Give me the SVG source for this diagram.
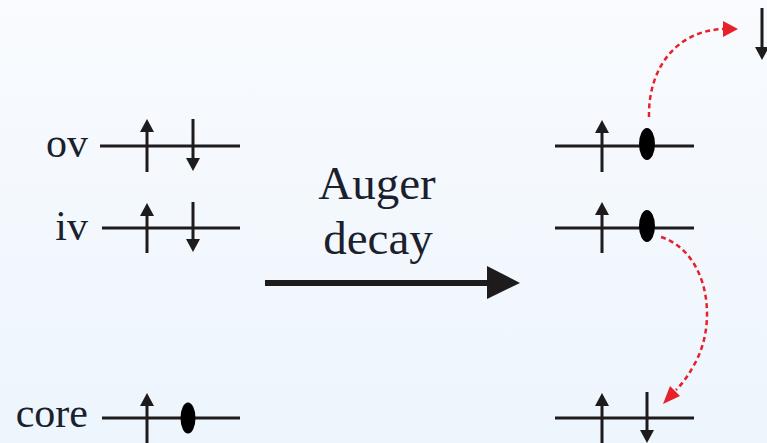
<svg xmlns="http://www.w3.org/2000/svg" width="767" height="443" viewBox="0 0 767 443">
  <defs>
    <linearGradient id="bg" x1="0" y1="0" x2="0" y2="1">
      <stop offset="0" stop-color="#f9fbfe"/>
      <stop offset="1" stop-color="#edf5fd"/>
    </linearGradient>
    <path id="up" d="M0,0 L-7,13 L7,13 Z" fill="#1e1b1c"/>
    <path id="down" d="M0,0 L-7,-13 L7,-13 Z" fill="#1e1b1c"/>
  </defs>
  <style>
    .lvl { stroke: #1e1b1c; stroke-width: 3; fill: none; }
    .shaft { stroke: #1e1b1c; stroke-width: 3; fill: none; }
    .hole { fill: #000; }
    .lbl { font-family: "Liberation Serif", "Times New Roman", serif; font-size: 42px; fill: #1b1f2e; }
    .big { font-family: "Liberation Serif", "Times New Roman", serif; font-size: 47px; fill: #1b1f2e; text-anchor: middle; }
    .red { stroke: #e8202a; stroke-width: 2.5; fill: none; stroke-dasharray: 5 3.5; }
    .redhead { fill: #e8202a; }
  </style>
  <rect width="767" height="443" fill="url(#bg)"/>

  <g id="left-ov">
    <text class="lbl" x="88" y="157" text-anchor="end">ov</text>
    <line class="lvl" x1="100" y1="146" x2="240" y2="146"/>
    <line class="shaft" x1="147" y1="172" x2="147" y2="128"/>
    <use href="#up" x="147" y="119"/>
    <line class="shaft" x1="193" y1="119" x2="193" y2="162"/>
    <use href="#down" x="193" y="171"/>
  </g>
  <g id="left-iv">
    <text class="lbl" x="88" y="240" text-anchor="end">iv</text>
    <line class="lvl" x1="102" y1="228" x2="240" y2="228"/>
    <line class="shaft" x1="147" y1="253" x2="147" y2="210"/>
    <use href="#up" x="147" y="203"/>
    <line class="shaft" x1="193" y1="202" x2="193" y2="244"/>
    <use href="#down" x="193" y="252"/>
  </g>
  <g id="left-core">
    <text class="lbl" x="88" y="427" text-anchor="end">core</text>
    <line class="lvl" x1="102" y1="418" x2="240" y2="418"/>
    <line class="shaft" x1="147" y1="445" x2="147" y2="402"/>
    <use href="#up" x="147" y="393"/>
    <ellipse class="hole" cx="188" cy="418" rx="7.5" ry="15.5"/>
  </g>

  <g id="auger">
    <text class="big" x="377" y="199">Auger</text>
    <text class="big" x="378" y="254">decay</text>
  </g>

  <g id="right-ov">
    <line class="lvl" x1="555" y1="146" x2="694" y2="146"/>
    <line class="shaft" x1="602" y1="172" x2="602" y2="128"/>
    <use href="#up" x="602" y="120"/>
    <ellipse class="hole" cx="647" cy="144" rx="8" ry="16"/>
  </g>
  <g id="right-iv">
    <line class="lvl" x1="555" y1="228" x2="694" y2="228"/>
    <line class="shaft" x1="602" y1="253" x2="602" y2="210"/>
    <use href="#up" x="602" y="202"/>
    <ellipse class="hole" cx="647" cy="226" rx="8" ry="16"/>
  </g>
  <g id="right-core">
    <line class="lvl" x1="555" y1="418" x2="694" y2="418"/>
    <line class="shaft" x1="602" y1="445" x2="602" y2="402"/>
    <use href="#up" x="602" y="393"/>
    <line class="shaft" x1="647" y1="392" x2="647" y2="434"/>
    <use href="#down" x="647" y="443"/>
  </g>
  <g id="ejected-electron">
    <line class="shaft" x1="762" y1="8" x2="762" y2="50"/>
    <use href="#down" x="762" y="60"/>
  </g>

  <g id="connectors">
    <line x1="265" y1="283" x2="490" y2="283" stroke="#1e1b1c" stroke-width="6"/>
    <path d="M487,266 L520,283 L487,299 Z" fill="#1e1b1c"/>
    <path class="red" d="M649,117 C648,70 675,30 725,29"/>
    <path class="redhead" d="M723,21 L738,29 L723,37 Z"/>
    <path class="red" d="M661,237 C708,252 719,322 694,365 C687,378 681,385 676,390"/>
    <path class="redhead" d="M663,404 L670,386 L680,396 Z"/>
  </g>
</svg>
